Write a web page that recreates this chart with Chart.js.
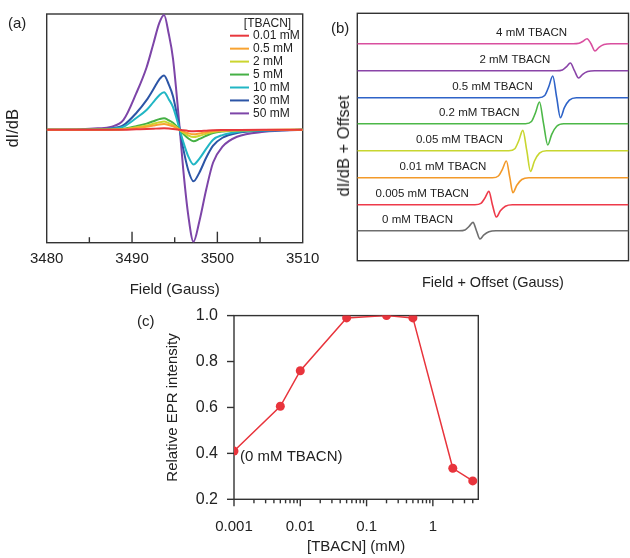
<!DOCTYPE html>
<html>
<head>
<meta charset="utf-8">
<script src="https://cdn.jsdelivr.net/npm/chart.js@4.4.0/dist/chart.umd.min.js"></script>
<style>
body { margin:0; background:#fff; width:630px; height:558px; position:relative; overflow:hidden; font-family:"Liberation Sans", Arial, sans-serif; color:#222; }
canvas { position:absolute; }
.lbl { position:absolute; font-size:15px; line-height:18px; }
</style>
</head>
<body>
<canvas id="chartA" width="328" height="303" style="left:0;top:0"></canvas>
<canvas id="chartB" width="300" height="296" style="left:330px;top:0"></canvas>
<canvas id="chartC" width="380" height="268" style="left:120px;top:290px"></canvas>
<div class="lbl" style="left:8px;top:14px">(a)</div>
<div class="lbl" style="left:331px;top:19px">(b)</div>
<div class="lbl" style="left:137px;top:312px">(c)</div>
<div class="lbl" style="left:343px;top:146px;transform:translate(-50%,-50%) rotate(-90deg);white-space:nowrap;font-size:16.5px">dI/dB + Offset</div>
<script>
// ---- panel (a): EPR spectra at different [TBACN] ----
const fieldA = [3480, 3484, 3486, 3487.5, 3489, 3490.5, 3491.7, 3492.5, 3493.2, 3493.75, 3494.3, 3494.8, 3495.6, 3496.0, 3496.6, 3497.2, 3497.9, 3498.7, 3499.5, 3500.6, 3502.3, 3505.5, 3510];
const concA  = ['0.01 mM', '0.5 mM', '2 mM', '5 mM', '10 mM', '30 mM', '50 mM'];
const colorsA = ['#e8383d', '#f8a331', '#cbd52f', '#45b045', '#21b6c4', '#2c55a6', '#7d45a8'];
const sig001 = [0, 0, 0, 0, 0.1, 0.5, 0.8, 1.1, 1.4, 1.5, 1.3, 0.9, 0, -0.5, -1.1, -1.4, -1.2, -0.8, -0.4, -0.2, -0.1, 0, 0];
const sig05  = [0, 0, 0.1, 0.2, 0.5, 1.9, 3.2, 4.4, 5.4, 5.8, 4.9, 3.6, 0, -1.6, -3.5, -4.5, -3.7, -2.4, -1.3, -0.7, -0.3, -0.1, 0];
const sig2   = [0, 0, 0.1, 0.2, 0.7, 2.6, 4.4, 6.1, 7.6, 8.3, 6.8, 5, 0, -2.6, -5.7, -7.3, -6, -3.9, -2.1, -1.1, -0.5, -0.1, 0];
const sig5   = [0, 0, 0.2, 0.3, 1, 3.7, 6.3, 8.7, 10.8, 11.7, 9.7, 7.2, 0, -4, -8.7, -11.5, -9.2, -6, -3.3, -1.7, -0.7, -0.2, 0];
const sig10  = [0, 0.2, 0.5, 1, 3.2, 12, 20, 28, 35, 38, 31, 23, 0, -12, -27, -35, -29, -19, -10, -5.3, -2.2, -0.6, 0];
const sig30  = [0, 0.2, 0.7, 1.4, 4.7, 17, 30, 41, 51, 55, 46, 34, 0, -19, -41, -52, -43, -28, -16, -8, -3.3, -1, 0];
const sig50  = [0, 0.5, 1.5, 3, 10, 37, 63, 87, 108, 116, 97, 72, 0, -40, -87, -113, -92, -60, -33, -17, -7, -2, 0];
const seriesA = [sig001, sig05, sig2, sig5, sig10, sig30, sig50];

// ---- panel (b): stacked spectra, [x, y] with offset baselines ----
const namesB  = ['0 mM TBACN', '0.005 mM TBACN', '0.01 mM TBACN', '0.05 mM TBACN', '0.2 mM TBACN', '0.5 mM TBACN', '2 mM TBACN', '4 mM TBACN'];
const colorsB = ['#6e6e6e', '#ee3a4a', '#f39a2a', '#c8d630', '#4db848', '#2e63c8', '#8a44a8', '#d94f9f'];
const trace0    = [[0,30],[102,30],[108,30.8],[112,34.2],[116,38.3],[119.5,30],[123,21.7],[127,25.9],[132,29],[139,30],[272,30]];
const trace0005 = [[0,56],[118,56],[124,57.3],[128,62.7],[132,69.3],[135.5,56],[139.5,43.7],[143.5,49.9],[148.5,54.5],[155.5,56],[272,56]];
const trace001  = [[0,83],[135.5,83],[141.5,84.7],[145.5,91.4],[149.5,99.7],[153,83],[156,68],[160,75.5],[165,81.2],[172,83],[272,83]];
const trace005  = [[0,110],[152,110],[158,112],[162,120.2],[166,130.3],[170,110],[173.7,89.3],[177.7,99.7],[182.7,107.5],[189.7,110],[272,110]];
const trace02   = [[0,137],[168.7,137],[174.7,139.2],[178.7,147.9],[182.7,158.7],[186.8,137],[191,115.7],[195,126.4],[200,134.4],[207,137],[272,137]];
const trace05   = [[0,163],[182,163],[188,165.2],[192,173.9],[196,184.7],[200,163],[203.7,143],[207.7,153],[212.7,160.6],[219.7,163],[272,163]];
const trace2    = [[0,190],[199.7,190],[205.7,190.8],[209.7,193.9],[213.7,197.7],[217.8,190],[222,182.7],[226,186.4],[231,189.1],[238,190],[272,190]];
const trace4    = [[0,217],[216.4,217],[222.4,217.5],[226.4,219.5],[230.4,222],[234.4,217],[238.4,209.7],[242.4,213.4],[247.4,216.1],[254.4,217],[272,217]];
const tracesB = [trace0, trace0005, trace001, trace005, trace02, trace05, trace2, trace4];

// ---- panel (c): relative EPR intensity ----
const concC   = [0.001, 0.005, 0.01, 0.05, 0.2, 0.5, 2, 4];
const intensC = [0.41, 0.605, 0.76, 0.99, 1.0, 0.99, 0.335, 0.28];
const noteC   = '(0 mM TBACN)';
const majorC  = [0.001, 0.01, 0.1, 1];
const minorC  = [0.002, 0.003, 0.004, 0.005, 0.006, 0.007, 0.008, 0.009,
                 0.02, 0.03, 0.04, 0.05, 0.06, 0.07, 0.08, 0.09,
                 0.2, 0.3, 0.4, 0.5, 0.6, 0.7, 0.8, 0.9, 2, 3, 4];
const yTicksC = [0.2, 0.4, 0.6, 0.8, 1.0];

Chart.defaults.font.family = '"Liberation Sans", Arial, sans-serif';
Chart.defaults.color = '#222';

// box round the plot + hand drawn tick marks
const framePlugin = {
    id: 'frame',
    beforeDatasetsDraw(chart, args, o) {
        const { ctx, chartArea: a } = chart;
        ctx.save();
        ctx.strokeStyle = '#333';
        ctx.lineWidth = 1.4;
        ctx.strokeRect(a.left, a.top, a.width, a.height);
        (o.marks || []).forEach(m => {
            const sc = chart.scales[m.axis];
            m.values.forEach(v => {
                const p = sc.getPixelForValue(v);
                ctx.beginPath();
                if (m.axis === 'x') { ctx.moveTo(p, a.bottom); ctx.lineTo(p, a.bottom + m.len); }
                else { ctx.moveTo(a.left, p); ctx.lineTo(a.left - m.len, p); }
                ctx.stroke();
            });
        });
        ctx.restore();
    }
};

// legend inside panel (a)
const boxLegend = {
    id: 'boxLegend',
    afterDraw(chart, args, o) {
        const ctx = chart.ctx;
        ctx.save();
        ctx.font = '12px "Liberation Sans", Arial, sans-serif';
        ctx.fillStyle = '#222';
        ctx.textBaseline = 'middle';
        ctx.textAlign = 'center';
        ctx.fillText(o.title, o.titleX, o.titleY);
        ctx.textAlign = 'left';
        chart.data.datasets.forEach((ds, i) => {
            const y = o.y + i * o.step;
            ctx.strokeStyle = ds.borderColor;
            ctx.lineWidth = 2;
            ctx.beginPath();
            ctx.moveTo(o.x, y);
            ctx.lineTo(o.x + o.len, y);
            ctx.stroke();
            ctx.fillText(ds.label, o.x + o.len + 4, y);
        });
        ctx.restore();
    }
};

// trace names in panel (b), placed left of each peak
const traceNames = {
    id: 'traceNames',
    afterDatasetsDraw(chart) {
        const { ctx, scales: { x, y } } = chart;
        ctx.save();
        ctx.font = '11.5px "Liberation Sans", Arial, sans-serif';
        ctx.fillStyle = '#222';
        ctx.textAlign = 'right';
        ctx.textBaseline = 'middle';
        chart.data.datasets.forEach(ds => {
            const peak = ds.data[4];
            ctx.fillText(ds.label, x.getPixelForValue(peak.x) - 20, y.getPixelForValue(ds.data[0].y) - 11.2);
        });
        ctx.restore();
    }
};

// note next to first point of panel (c)
const pointNote = {
    id: 'pointNote',
    afterDatasetsDraw(chart, args, o) {
        const { ctx, scales: { x, y } } = chart;
        ctx.save();
        ctx.font = '15px "Liberation Sans", Arial, sans-serif';
        ctx.fillStyle = '#222';
        ctx.textBaseline = 'middle';
        ctx.fillText(o.text, x.getPixelForValue(concC[0]) + 6, y.getPixelForValue(intensC[0]) + 6);
        ctx.restore();
    }
};

const noGrid = { display: false, drawTicks: false };

// Panel (a)
new Chart(document.getElementById('chartA'), {
    type: 'line',
    data: {
        datasets: concA.map((c, i) => ({
            label: c,
            data: fieldA.map((f, j) => ({ x: f, y: seriesA[i][j] })),
            borderColor: colorsA[i],
            borderWidth: 2,
            pointRadius: 0,
            cubicInterpolationMode: 'monotone'
        }))
    },
    options: {
        responsive: false,
        animation: false,
        layout: { padding: { top: 14, right: 25.3, left: 0, bottom: 0 } },
        plugins: {
            legend: { display: false },
            tooltip: { enabled: false },
            frame: { marks: [
                { axis: 'x', values: [3490, 3500], len: -11 },
                { axis: 'x', values: [3485, 3495, 3505], len: -5.5 }
            ] },
            boxLegend: { title: '[TBACN]', titleX: 267.5, titleY: 23.3, x: 230, y: 35.7, step: 12.95, len: 19 }
        },
        scales: {
            x: {
                type: 'linear', min: 3480, max: 3510,
                grid: noGrid, border: { display: false },
                ticks: { stepSize: 10, padding: 7, font: { size: 15 }, maxRotation: 0, callback: v => v },
                title: { display: true, text: 'Field (Gauss)', font: { size: 15 }, padding: { top: 4, bottom: 4 } },
                afterFit: s => { s.height = 60.3; }
            },
            y: {
                min: -114, max: 117,
                grid: noGrid, border: { display: false },
                ticks: { display: false },
                title: { display: true, text: 'dI/dB', font: { size: 16.5 }, padding: { top: 4, bottom: 4 } },
                afterFit: s => { s.width = 46.7; }
            }
        }
    },
    plugins: [framePlugin, boxLegend]
});

// Panel (b)
new Chart(document.getElementById('chartB'), {
    type: 'line',
    data: {
        datasets: tracesB.map((tr, i) => ({
            label: namesB[i],
            data: tr.map(p => ({ x: p[0], y: p[1] })),
            borderColor: colorsB[i],
            borderWidth: 1.6,
            pointRadius: 0,
            cubicInterpolationMode: 'monotone'
        }))
    },
    options: {
        responsive: false,
        animation: false,
        layout: { padding: { top: 13.3, right: 1.5, left: 0, bottom: 0 } },
        plugins: { legend: { display: false }, tooltip: { enabled: false }, frame: {} },
        scales: {
            x: {
                type: 'linear', min: 0, max: 272,
                grid: noGrid, border: { display: false },
                ticks: { display: false },
                title: { display: true, text: 'Field + Offset (Gauss)', font: { size: 14.5 }, padding: { top: 4, bottom: 4 } },
                afterFit: s => { s.height = 35.3; }
            },
            y: {
                min: 0, max: 247.4,
                grid: noGrid, border: { display: false },
                ticks: { display: false },
                afterFit: s => { s.width = 27.3; }
            }
        }
    },
    plugins: [framePlugin, traceNames]
});

// Panel (c)
new Chart(document.getElementById('chartC'), {
    type: 'line',
    data: {
        datasets: [{
            data: concC.map((c, i) => ({ x: c, y: intensC[i] })),
            borderColor: '#e8343c',
            backgroundColor: '#e8343c',
            borderWidth: 1.5,
            pointRadius: 4.5,
            pointBorderWidth: 0
        }]
    },
    options: {
        responsive: false,
        animation: false,
        layout: { padding: { top: 25, right: 21.7, left: 40.3, bottom: 0 } },
        plugins: {
            legend: { display: false },
            tooltip: { enabled: false },
            frame: { marks: [
                { axis: 'x', values: majorC, len: 7 },
                { axis: 'x', values: minorC, len: 4 },
                { axis: 'y', values: yTicksC, len: 7 }
            ] },
            pointNote: { text: noteC }
        },
        scales: {
            x: {
                type: 'logarithmic', min: 0.001, max: 4.85,
                grid: noGrid, border: { display: false },
                ticks: {
                    autoSkip: false, maxRotation: 0, padding: 19, font: { size: 15 },
                    callback: v => majorC.some(m => Math.abs(m - v) < m * 1e-6) ? String(v) : ''
                },
                title: { display: true, text: '[TBACN] (mM)', font: { size: 15 }, padding: { top: 4, bottom: 2.3 } },
                afterFit: s => { s.height = 58.7; }
            },
            y: {
                min: 0.2, max: 1.0,
                grid: noGrid, border: { display: false },
                ticks: { stepSize: 0.2, padding: 16, font: { size: 16 }, callback: v => v.toFixed(1) },
                title: { display: true, text: 'Relative EPR intensity', font: { size: 15 }, padding: { top: 4, bottom: 4 } },
                afterFit: s => { s.width = 73.7; }
            }
        }
    },
    plugins: [framePlugin, pointNote]
});
</script>
</body>
</html>
